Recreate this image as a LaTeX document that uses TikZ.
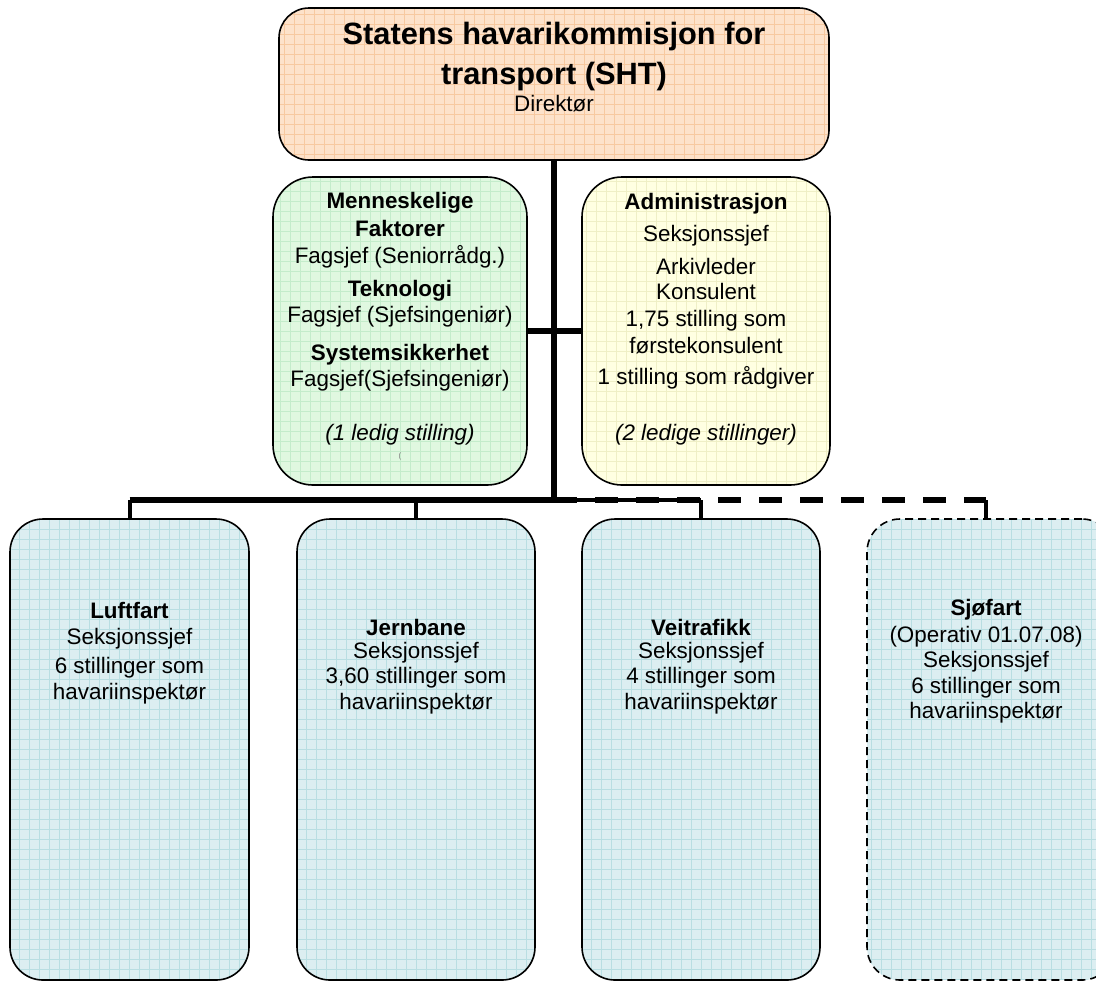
\documentclass[tikz,border=0pt]{standalone}
\usepackage{fontspec}
\setmainfont{Liberation Sans}
\definecolor{orfill}{HTML}{FDE2CA}
\definecolor{orgrid}{HTML}{F7C9A0}
\definecolor{grfill}{HTML}{E0F8E0}
\definecolor{grgrid}{HTML}{C4ECCB}
\definecolor{yefill}{HTML}{FFFFE2}
\definecolor{yegrid}{HTML}{EFEFC6}
\definecolor{blfill}{HTML}{DCEEF1}
\definecolor{blgrid}{HTML}{B9DEE2}
\tikzset{
  orgbox/.style={draw=black, line width=0.8pt, inner sep=0pt},
  gridfill/.style 2 args={fill=#1, path picture={\draw[#2, solid, line width=0.4pt, step=5pt]
      (path picture bounding box.south west) grid (path picture bounding box.north east);}},
  txt/.style={font=\fontsize{11.2}{13}\selectfont, align=center, inner sep=0pt, anchor=center},
  btxt/.style={font=\fontsize{11.2}{13}\selectfont\bfseries, align=center, inner sep=0pt, anchor=center},
  itxt/.style={font=\fontsize{11.2}{13}\selectfont\itshape, align=center, inner sep=0pt, anchor=center},
  ttxt/.style={font=\fontsize{15.4}{18}\selectfont\bfseries, align=center, inner sep=0pt, anchor=center},
  mainline/.style={line width=3pt},
  dropline/.style={line width=2pt},
}
\begin{document}
\begin{tikzpicture}[x=0.5pt,y=-0.5pt]
\useasboundingbox (0,0) rectangle (1096,982);
\clip (0,0) rectangle (1096,982);
% boxes
\node[orgbox, gridfill={orfill}{orgrid}, rounded corners=15pt, minimum width=275pt, minimum height=76pt] (top) at (554,84) {};
\node[orgbox, gridfill={grfill}{grgrid}, rounded corners=20pt, minimum width=127pt, minimum height=154pt] (green) at (400,331) {};
\node[orgbox, gridfill={yefill}{yegrid}, rounded corners=20pt, minimum width=124pt, minimum height=154pt] (yellow) at (706,331) {};
\node[orgbox, gridfill={blfill}{blgrid}, rounded corners=16.5pt, minimum width=119.5pt, minimum height=230.5pt] (b1) at (129.5,749.5) {};
\node[orgbox, gridfill={blfill}{blgrid}, rounded corners=16.5pt, minimum width=119pt, minimum height=230.5pt] (b2) at (416,749.5) {};
\node[orgbox, gridfill={blfill}{blgrid}, rounded corners=16.5pt, minimum width=119pt, minimum height=230.5pt] (b3) at (701,749.5) {};
\node[orgbox, gridfill={blfill}{blgrid}, rounded corners=16.5pt, minimum width=124pt, minimum height=230.5pt, dash pattern=on 4pt off 2.5pt] (b4) at (991,749.5) {};
% connectors
\coordinate (hub) at (554,500);
\coordinate (mid) at (554,331);
\coordinate (b4drop) at (986,500);
\draw[mainline] (top.south) -- (hub);
\draw[mainline] (green.east |- mid) -- (yellow.west |- mid);
\draw[mainline] (b1.north |- hub) -- (hub);
\draw[line width=2pt] (hub) -- (b3.north |- hub);
\draw[mainline, dash pattern=on 11.5pt off 9pt] (hub) -- (b4drop);
\draw[dropline] (b1.north |- hub) -- (b1.north);
\draw[dropline] (b2.north |- hub) -- (b2.north);
\draw[dropline] (b3.north |- hub) -- (b3.north);
\draw[dropline] (b4drop) -- (b4drop |- b4.north);
% title texts
\node[ttxt] (t1) at (554,37) {Statens havarikommisjon for};
\node[ttxt] (t2) at (554,77) {transport (SHT)};
\node[txt] (t3) at (554,104) {Direktør};
% green texts
\node[btxt] (g1) at (400,203) {Menneskelige};
\node[btxt] (g2) at (400,228) {Faktorer};
\node[txt] (g3) at (400,257) {Fagsjef (Seniorrådg.)};
\node[btxt] (g4) at (400,291) {Teknologi};
\node[txt] (g5) at (400,317) {Fagsjef (Sjefsingeniør)};
\node[btxt] (g6) at (400,355) {Systemsikkerhet};
\node[txt] (g7) at (400,381) {Fagsjef(Sjefsingeniør)};
\node[itxt] (g8) at (400,435) {(1 ledig stilling)};
\node[txt, font=\fontsize{4}{5}\selectfont, text=gray] (g9) at (400,456) {(};
% yellow texts
\node[btxt] (y1) at (706,204) {Administrasjon};
\node[txt] (y2) at (706,236) {Seksjonssjef};
\node[txt] (y3) at (706,266) {Arkivleder};
\node[txt] (y4) at (706,291) {Konsulent};
\node[txt] (y5) at (706,321) {1,75 stilling som};
\node[txt] (y6) at (706,346) {førstekonsulent};
\node[txt] (y7) at (706,378) {1 stilling som rådgiver};
\node[itxt] (y8) at (706,435) {(2 ledige stillinger)};
% bottom texts
\node[btxt] (l1) at (129.5,610) {Luftfart};
\node[txt] (l2) at (129.5,639) {Seksjonssjef};
\node[txt] (l3) at (129.5,668) {6 stillinger som};
\node[txt] (l4) at (129.5,694) {havariinspektør};
\node[btxt] (j1) at (416,627) {Jernbane};
\node[txt] (j2) at (416,653) {Seksjonssjef};
\node[txt] (j3) at (416,678) {3,60 stillinger som};
\node[txt] (j4) at (416,704) {havariinspektør};
\node[btxt] (v1) at (701,627) {Veitrafikk};
\node[txt] (v2) at (701,653) {Seksjonssjef};
\node[txt] (v3) at (701,678) {4 stillinger som};
\node[txt] (v4) at (701,704) {havariinspektør};
\node[btxt] (s1) at (986,610) {Sjøfart};
\node[txt] (s2) at (986,637) {(Operativ 01.07.08)};
\node[txt] (s3) at (986,662) {Seksjonssjef};
\node[txt] (s4) at (986,688) {6 stillinger som};
\node[txt] (s5) at (986,713) {havariinspektør};
\end{tikzpicture}
\end{document}
